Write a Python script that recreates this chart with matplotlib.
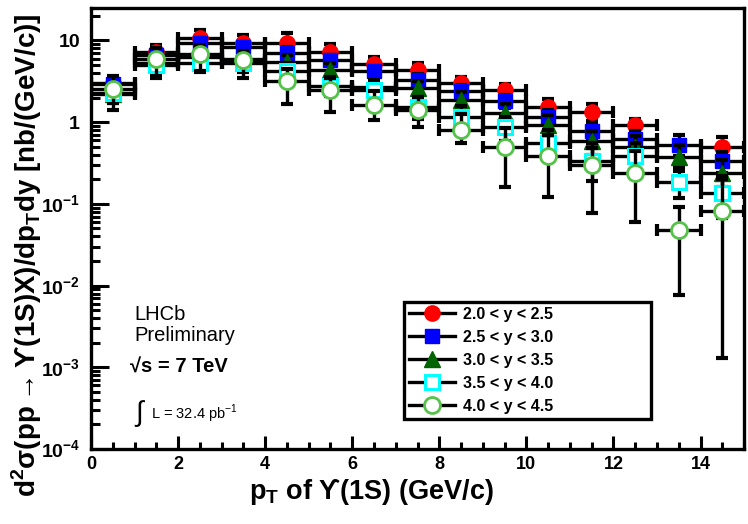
import matplotlib
matplotlib.use("Agg")
import matplotlib.pyplot as plt
from matplotlib.lines import Line2D
import numpy as np

# bin centres (GeV/c), bin half-width
pt = [0.5, 1.5, 2.5, 3.5, 4.5, 5.5, 6.5, 7.5, 8.5, 9.5, 10.5, 11.5, 12.5, 13.5, 14.5]
pt_half = [0.5] * 15

labels = ["2.0 < y < 2.5", "2.5 < y < 3.0", "3.0 < y < 3.5", "3.5 < y < 4.0", "4.0 < y < 4.5"]

y1 = [3.0, 7.2, 10.8, 9.2, 9.3, 7.3, 5.2, 4.4, 3.0, 2.5, 1.55, 1.33, 0.93, np.nan, 0.50]
y1_lo = [0.6, 1.4, 2.2, 2.0, 2.0, 1.4, 0.9, 0.8, 0.5, 0.4, 0.3, 0.3, 0.16, np.nan, 0.12]
y1_hi = [0.6, 1.5, 2.7, 2.5, 3.1, 1.8, 1.1, 0.9, 0.6, 0.4, 0.35, 0.35, 0.17, np.nan, 0.15]

y2 = [2.9, 6.7, 9.3, 8.2, 7.0, 5.8, 4.2, 3.3, 2.37, 1.8, 1.17, 0.77, 0.63, 0.53, 0.33]
y2_lo = [0.5, 1.0, 1.4, 1.2, 1.1, 0.8, 0.6, 0.5, 0.4, 0.3, 0.22, 0.18, 0.14, 0.14, 0.09]
y2_hi = [0.5, 1.1, 1.5, 1.3, 1.2, 0.9, 0.7, 0.6, 0.45, 0.35, 0.25, 0.2, 0.15, 0.17, 0.1]

y3 = [2.2, 5.3, 6.3, 6.0, 5.5, 4.4, 2.7, 2.6, 1.88, 1.3, 0.93, 0.58, 0.50, 0.37, 0.24]
y3_lo = [0.5, 1.0, 1.2, 1.1, 1.0, 0.8, 0.6, 0.5, 0.4, 0.3, 0.25, 0.18, 0.15, 0.12, 0.08]
y3_hi = [0.5, 1.0, 1.2, 1.1, 1.1, 0.9, 0.6, 0.6, 0.45, 0.35, 0.3, 0.2, 0.17, 0.15, 0.1]

y4 = [2.3, 5.0, 5.3, 5.3, 4.2, 2.8, 2.5, 1.55, 1.17, 0.87, 0.56, 0.33, 0.38, 0.186, 0.137]
y4_lo = [0.6, 1.1, 1.2, 1.2, 1.0, 0.7, 0.6, 0.45, 0.35, 0.28, 0.2, 0.14, 0.15, 0.068, 0.07]
y4_hi = [0.5, 1.1, 1.3, 1.3, 1.1, 0.8, 0.7, 0.5, 0.4, 0.3, 0.25, 0.15, 0.17, 0.09, 0.08]

y5 = [2.56, 6.0, 6.8, 5.7, 3.15, 2.5, 1.63, 1.42, 0.81, 0.49, 0.39, 0.30, 0.24, 0.048, 0.081]
y5_lo = [1.15, 2.5, 2.6, 2.2, 1.47, 1.16, 0.56, 0.55, 0.25, 0.328, 0.27, 0.222, 0.18, 0.0404, 0.0797]
y5_hi = [1.1, 2.0, 2.0, 1.8, 1.3, 1.0, 0.8, 0.6, 0.45, 0.35, 0.3, 0.25, 0.2, 0.043, 0.12]

ytick_vals = [1e-4, 1e-3, 1e-2, 1e-1, 1, 10]
ytick_labels = [r"10$^{\mathregular{-4}}$", r"10$^{\mathregular{-3}}$", r"10$^{\mathregular{-2}}$",
                r"10$^{\mathregular{-1}}$", "1", "10"]

SANS = ["Liberation Sans", "DejaVu Sans"]
plt.rcParams["font.family"] = SANS
plt.rcParams["mathtext.fontset"] = "custom"
plt.rcParams["mathtext.rm"] = "Liberation Sans"

GREEN_LT = "#55c24a"
styles = [
    dict(marker="o", ms=11, mfc="#ff0000", mec="#ff0000", mew=1),
    dict(marker="s", ms=10, mfc="#0000ff", mec="#0000ff", mew=1),
    dict(marker="^", ms=11, mfc="#006400", mec="#006400", mew=1),
    dict(marker="s", ms=10.5, mfc="white", mec="#00ffff", mew=2.2),
    dict(marker="o", ms=11.5, mfc="white", mec=GREEN_LT, mew=2.0),
]
series = [(y1, y1_lo, y1_hi), (y2, y2_lo, y2_hi), (y3, y3_lo, y3_hi),
          (y4, y4_lo, y4_hi), (y5, y5_lo, y5_hi)]

fig = plt.figure(figsize=(7.48, 5.24), dpi=100)
ax = fig.add_axes([0.1217, 0.143, 0.873, 0.842])

for i, ((vals, lo, hi), st) in enumerate(zip(series, styles)):
    ax.errorbar(pt, vals, xerr=pt_half, yerr=[lo, hi], fmt="none", ecolor="black",
                elinewidth=2.4, capsize=4.5, capthick=3, zorder=2 + 2 * i)
    ax.plot(pt, vals, linestyle="none", zorder=3 + 2 * i, **st)

ax.set_yscale("log")
ax.set_xlim(0, 15)
ax.set_ylim(1e-4, 25)
ax.set_yticks(ytick_vals)
ax.set_yticklabels(ytick_labels, fontsize=14, fontweight="bold")
ax.yaxis.set_minor_locator(matplotlib.ticker.LogLocator(base=10, subs=np.arange(2, 10)))
ax.yaxis.set_minor_formatter(matplotlib.ticker.NullFormatter())
ax.set_xticks(np.arange(0, 15, 2))
ax.set_xticks(np.arange(0, 15.01, 0.5), minor=True)
for lab in ax.get_xticklabels():
    lab.set_fontsize(13)
    lab.set_fontweight("bold")
ax.tick_params(axis="y", which="major", direction="in", length=13, width=2.2, pad=8, right=False)
ax.tick_params(axis="y", which="minor", direction="in", length=6.5, width=2.2, right=False)
ax.tick_params(axis="x", which="major", direction="in", length=9.5, width=2.2, pad=5, top=False)
ax.tick_params(axis="x", which="minor", direction="in", length=5, width=2.2, top=False)
for sp in ax.spines.values():
    sp.set_linewidth(2.4)

# axis titles
ax.text(0.43, -0.098, r"p$_\mathregular{T}$ of ϒ(1S) (GeV/c)", transform=ax.transAxes,
        ha="center", va="center", fontsize=19.5, fontweight="bold",
        family=["Liberation Sans", "DejaVu Serif"])
ax.text(-0.098, 0.44,
        r"d$^\mathregular{2}$σ(pp${\rightarrow}$ϒ(1S)X)/dp$_\mathregular{T}$dy [nb/(GeV/c)]",
        transform=ax.transAxes, rotation=90, ha="center", va="center",
        fontsize=20, fontweight="bold", family=["Liberation Sans", "DejaVu Serif"])

# annotations
ax.text(0.067, 0.281, "LHCb\nPreliminary", transform=ax.transAxes, fontsize=14.5,
        ha="left", va="center", linespacing=1.15)
ax.text(0.06, 0.186, "√s = 7 TeV", transform=ax.transAxes, fontsize=14.5,
        fontweight="bold", ha="left", va="center")
ax.text(0.075, 0.08, r"$\int$", transform=ax.transAxes, fontsize=20, ha="center", va="center")
ax.text(0.092, 0.08, r"L = 32.4 pb$^{\mathregular{-1}}$", transform=ax.transAxes,
        fontsize=10.5, ha="left", va="center")

handles = [Line2D([], [], color="black", lw=2.4, **st) for st in styles]
leg = ax.legend(handles, labels, loc="upper left", bbox_to_anchor=(0.467, 0.086, 0.403, 0.265),
                mode="expand", frameon=True, fancybox=False, framealpha=1, edgecolor="black",
                handlelength=2.9, handletextpad=0.5, labelspacing=0.5, borderpad=0.3,
                prop={"weight": "bold", "size": 11.5})
leg.get_frame().set_linewidth(2.4)

fig.savefig("out.png", dpi=100)
